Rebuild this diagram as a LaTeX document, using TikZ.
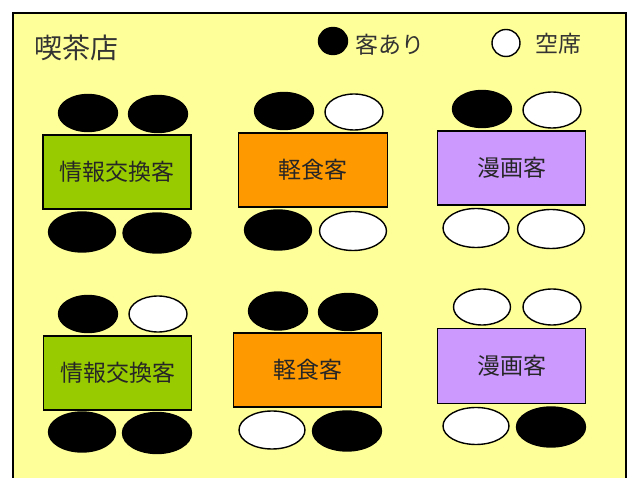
\documentclass[tikz,border=0pt]{standalone}
\usepackage{fontspec}
\newfontfamily\jp{Noto Sans CJK JP}
\usetikzlibrary{shapes.geometric}
\definecolor{cafebg}{HTML}{FFFF99}
\definecolor{green1}{HTML}{99CC00}
\definecolor{orange1}{HTML}{FF9900}
\definecolor{purple1}{HTML}{CC99FF}
\tikzset{
  tbl/.style={draw=black, line width=1.4pt, rectangle, inner sep=0pt, font=\jp\fontsize{23}{26}\selectfont, text=black!85},
  seat/.style={ellipse, draw=black, line width=1.4pt, inner sep=0pt},
  occ/.style={seat, fill=black},
  emp/.style={seat, fill=white},
  lbl/.style={font=\jp\fontsize{23}{26}\selectfont, text=black!80, inner sep=0pt, anchor=west},
}
\begin{document}
\begin{tikzpicture}[x=1pt,y=-1pt]
\useasboundingbox (0,0) rectangle (630,478);
\clip (0,0) rectangle (630,478);
\fill[white] (0,0) rectangle (630,478);
\draw[fill=cafebg, line width=1.4pt] (13,13) rectangle (626,500);
\node[font=\jp\fontsize{28}{32}\selectfont, text=black!80, anchor=west, inner sep=0pt] (title) at (34,48) {喫茶店};
% legend
\node[occ, minimum width=29pt, minimum height=27pt] (legocc) at (333,41) {};
\node[lbl] (legocctxt) at (355,45) {客あり};
\node[emp, minimum width=28pt, minimum height=27pt] (legemp) at (506,43) {};
\node[lbl] (legemptxt) at (535,44) {空席};
% table row 1
\node[tbl, fill=green1, minimum width=148pt, minimum height=74pt] (t1) at (117,172) {情報交換客};
\node[tbl, fill=orange1, minimum width=149pt, minimum height=74pt] (t2) at (313,170) {軽食客};
\node[tbl, fill=purple1, minimum width=148pt, minimum height=74pt] (t3) at (511.5,168) {漫画客};
% table row 2
\node[tbl, fill=green1, minimum width=148pt, minimum height=74pt] (t4) at (117.5,373) {情報交換客};
\node[tbl, fill=orange1, minimum width=148pt, minimum height=74pt] (t5) at (307.5,370) {軽食客};
\node[tbl, fill=purple1, minimum width=148pt, minimum height=75pt] (t6) at (511.5,366) {漫画客};
% seats table 1
\node[occ, minimum width=59pt, minimum height=37pt] (s1a) at (88,113) {};
\node[occ, minimum width=59pt, minimum height=37pt] (s1b) at (158,114) {};
\node[occ, minimum width=67pt, minimum height=40pt] (s1c) at (82,232) {};
\node[occ, minimum width=68pt, minimum height=40pt] (s1d) at (157,233) {};
% seats table 2
\node[occ, minimum width=59pt, minimum height=37pt] (s2a) at (284,111) {};
\node[emp, minimum width=58pt, minimum height=36pt] (s2b) at (354,112) {};
\node[occ, minimum width=67pt, minimum height=40pt] (s2c) at (278,230) {};
\node[emp, minimum width=67pt, minimum height=39pt] (s2d) at (353,231) {};
% seats table 3
\node[occ, minimum width=59pt, minimum height=37pt] (s3a) at (482,109) {};
\node[emp, minimum width=58pt, minimum height=36pt] (s3b) at (552,110) {};
\node[emp, minimum width=66pt, minimum height=39pt] (s3c) at (476,228) {};
\node[emp, minimum width=67pt, minimum height=39pt] (s3d) at (551,229) {};
% seats table 4
\node[occ, minimum width=59pt, minimum height=37pt] (s4a) at (88,314) {};
\node[emp, minimum width=58pt, minimum height=36pt] (s4b) at (158,314) {};
\node[occ, minimum width=67pt, minimum height=40pt] (s4c) at (82,432) {};
\node[occ, minimum width=69pt, minimum height=41pt] (s4d) at (157,433) {};
% seats table 5
\node[occ, minimum width=59pt, minimum height=38pt] (s5a) at (278,311) {};
\node[occ, minimum width=59pt, minimum height=37pt] (s5b) at (348,312) {};
\node[emp, minimum width=66pt, minimum height=38pt] (s5c) at (272,430) {};
\node[occ, minimum width=69pt, minimum height=40pt] (s5d) at (347,431) {};
% seats table 6
\node[emp, minimum width=57pt, minimum height=36pt] (s6a) at (482,307) {};
\node[emp, minimum width=58pt, minimum height=36pt] (s6b) at (552,307) {};
\node[emp, minimum width=66pt, minimum height=37pt] (s6c) at (476,426) {};
\node[occ, minimum width=69pt, minimum height=40pt] (s6d) at (551,427) {};
\end{tikzpicture}
\end{document}
